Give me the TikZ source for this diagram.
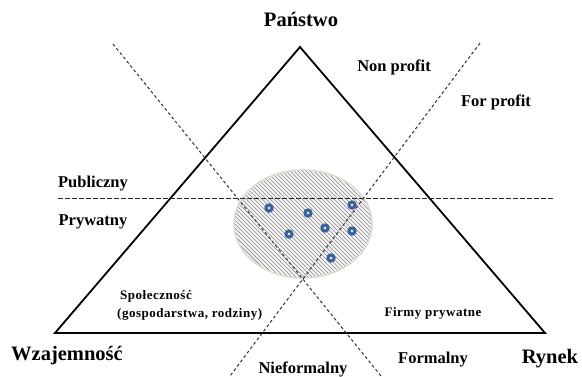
\documentclass[tikz,border=0pt]{standalone}
\usepackage{fontspec}
\setmainfont{Liberation Serif}
\newfontfamily\spacedserif[LetterSpace=4]{Liberation Serif}
\definecolor{dotblue}{RGB}{58,98,160}
\definecolor{hatchgray}{RGB}{135,135,135}
\definecolor{rimgray}{RGB}{222,218,205}
\begin{document}
\begin{tikzpicture}[x=1pt,y=-1pt,
  tri/.style={line width=1.8pt, line join=miter},
  diag/.style={line width=1pt, draw=black!80, dash pattern=on 3pt off 2.5pt},
  hdash/.style={line width=1pt, draw=black!85, dash pattern=on 4.5pt off 2.5pt},
  big/.style={inner sep=0pt, font=\bfseries\fontsize{20.5}{22}\selectfont},
  mid/.style={inner sep=0pt, font=\bfseries\fontsize{16.5}{18}\selectfont},
  small/.style={inner sep=0pt, font=\spacedserif\bfseries\fontsize{13}{15}\selectfont},
  hatch/.style={line width=0.7pt, draw=hatchgray},
  dot/.style={circle, fill=dotblue, inner sep=0pt, minimum size=9.5pt},
  dotc/.style={circle, fill=white, inner sep=0pt, minimum size=2.6pt}]
\useasboundingbox (0,0) rectangle (582,376);
\clip (0,0) rectangle (582,376);

% ellipse with hatching
\fill[black!4] (303,224) ellipse [x radius=69pt, y radius=54pt];
\begin{scope}
  \clip (303,224) ellipse [x radius=69pt, y radius=54pt];
  \foreach \i in {-160,-156,...,160}
    \draw[hatch] (203+\i,124) -- ++(200,200);
\end{scope}
\draw[rimgray, line width=1.6pt] (303,224) ellipse [x radius=69pt, y radius=54pt];

% triangle
\coordinate (A) at (300,47);
\coordinate (B) at (55,333);
\coordinate (C) at (545,333);
\draw[tri] (A) -- (B) -- (C) -- cycle;

% dashed lines
\coordinate (hl) at (58,198);
\coordinate (hr) at (553,198);
\coordinate (lt) at (113,44);
\coordinate (lb) at (381,376);
\coordinate (rt) at (480,43);
\coordinate (rb) at (230,376);
\draw[hdash] (hl) -- (hr);
\draw[diag] (lt) -- (lb);
\draw[diag] (rt) -- (rb);

% dots
\foreach \n/\x/\y in {d1/269/208, d2/308/213, d3/352/205, d4/289/234, d5/325/228, d6/352/231, d7/331/258}{
  \node[dot] (\n) at (\x,\y) {};
  \node[dotc] (\n c) at (\x,\y) {};
}

% labels
\node[big] (panstwo) at (301,19) {Państwo};
\node[big] (wzaj) at (67,356) {Wzajemność};
\node[big] (rynek) at (550,359) {Rynek};
\node[mid] (nonprofit) at (394,67) {Non profit};
\node[mid] (forprofit) at (496,102) {For profit};
\node[mid] (publ) at (93,184) {Publiczny};
\node[mid] (pryw) at (93,222) {Prywatny};
\node[mid] (niefor) at (303,369) {Nieformalny};
\node[mid] (formal) at (433,360) {Formalny};
\node[small, anchor=west] (spol) at (120,296) {Społeczność};
\node[small, anchor=west] (gosp) at (117,314) {(gospodarstwa, rodziny)};
\node[small] (firmy) at (433,313) {Firmy prywatne};
\end{tikzpicture}
\end{document}
